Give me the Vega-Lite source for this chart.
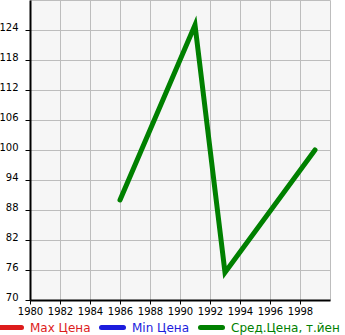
{
  "$schema": "https://vega.github.io/schema/vega-lite/v6.json",
  "width": 300,
  "height": 300,
  "autosize": "none",
  "padding": {"left": 30, "top": 0, "right": 15, "bottom": 35},
  "background": "white",
  "config": {
    "view": {"fill": "#f6f6f6", "stroke": "#bdbdbd", "strokeWidth": 1},
    "font": "DejaVu Sans"
  },
  "data": {
    "values": [
      {"year": 1986, "price": 90, "series": "Сред.Цена, т.йен"},
      {"year": 1991, "price": 125, "series": "Сред.Цена, т.йен"},
      {"year": 1993, "price": 75.5, "series": "Сред.Цена, т.йен"},
      {"year": 1999, "price": 100, "series": "Сред.Цена, т.йен"}
    ]
  },
  "mark": {"type": "line", "strokeWidth": 5, "strokeCap": "round", "clip": true},
  "encoding": {
    "x": {
      "field": "year", "type": "quantitative",
      "scale": {"domain": [1980, 2000], "nice": false, "zero": false},
      "axis": {
        "title": null, "values": [1980, 1982, 1984, 1986, 1988, 1990, 1992, 1994, 1996, 1998],
        "format": "d", "domainColor": "black", "domainWidth": 2, "tickColor": "black", "tickSize": 4,
        "labelFontSize": 10, "labelColor": "black", "labelPadding": 2, "labelFlush": false,
        "gridColor": "#bdbdbd", "gridWidth": 1, "gridOpacity": 1
      }
    },
    "y": {
      "field": "price", "type": "quantitative",
      "scale": {"domain": [70, 130], "nice": false, "zero": false},
      "axis": {
        "title": null, "values": [70, 76, 82, 88, 94, 100, 106, 112, 118, 124],
        "domainColor": "black", "domainWidth": 2, "tickColor": "black", "tickSize": 5,
        "labelFontSize": 10, "labelColor": "black", "labelPadding": 7, "labelBaseline": "alphabetic", "labelFlush": false,
        "gridColor": "#bdbdbd", "gridWidth": 1, "gridOpacity": 1
      }
    },
    "color": {
      "field": "series", "type": "nominal",
      "scale": {
        "domain": ["Max Цена", "Min Цена", "Сред.Цена, т.йен"],
        "range": ["#dd1c1c", "#1c1cdd", "#008000"]
      },
      "legend": {
        "title": null, "orient": "none", "direction": "horizontal",
        "legendX": -33, "legendY": 314, "padding": 0,
        "symbolType": "stroke", "symbolSize": 484, "symbolStrokeWidth": 5,
        "labelFontSize": 12, "labelOffset": 6, "columnPadding": 0,
        "gridAlign": "none",
        "labelLimit": 200,
        "encode": {
          "labels": {"update": {"fill": {"scale": "color", "field": "value"}}},
          "symbols": {"update": {"strokeCap": {"value": "round"}}}
        }
      }
    }
  }
}
